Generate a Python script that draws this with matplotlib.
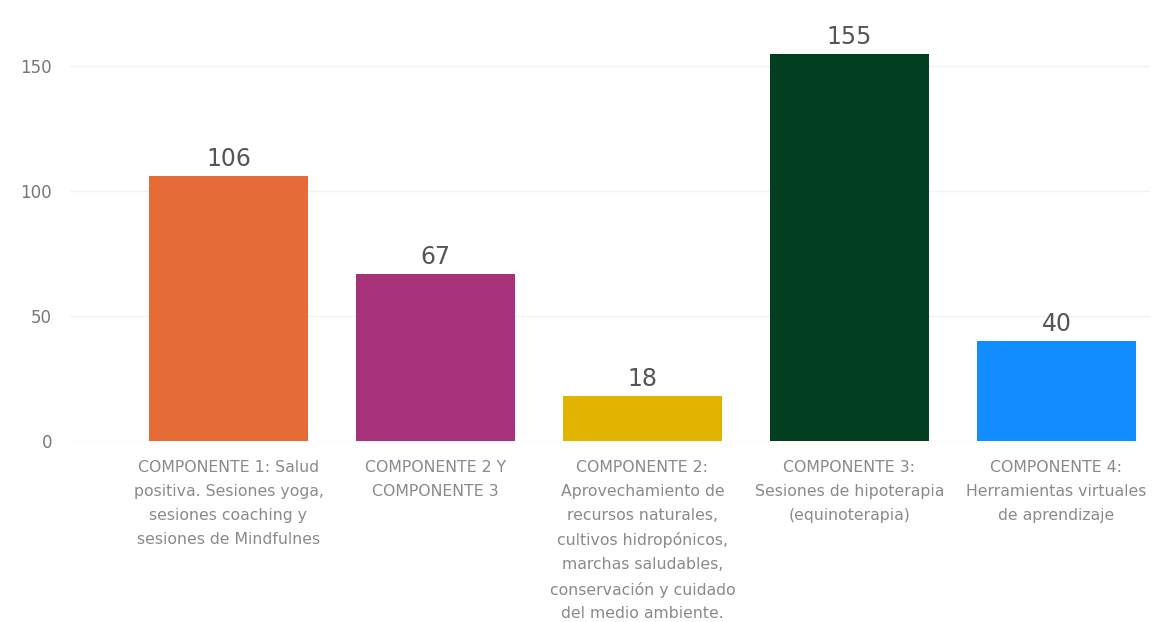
import numpy as np
import matplotlib.pyplot as plt

# Datos del gráfico
categorias = [
    "COMPONENTE 1: Salud\npositiva. Sesiones yoga,\nsesiones coaching y\nsesiones de Mindfulnes",
    "COMPONENTE 2 Y\nCOMPONENTE 3",
    "COMPONENTE 2:\nAprovechamiento de\nrecursos naturales,\ncultivos hidropónicos,\nmarchas saludables,\nconservación y cuidado\ndel medio ambiente.",
    "COMPONENTE 3:\nSesiones de hipoterapia\n(equinoterapia)",
    "COMPONENTE 4:\nHerramientas virtuales\nde aprendizaje",
]
valores = [106, 67, 18, 155, 40]
colores = ["#E66C37", "#A8327A", "#E0B400", "#013F20", "#118DFF"]
ticks_y = [0, 50, 100, 150]

fig = plt.figure(figsize=(11.55, 6.22), dpi=100)
ax = fig.add_axes([70 / 1155, 1 - 441 / 622, (1150 - 70) / 1155, 412.5 / 622])

x = np.arange(len(valores))
barras = ax.bar(x, valores, width=0.768, color=colores, zorder=3)

for xi, v in zip(x, valores):
    ax.text(xi, v + 2, str(v), ha="center", va="bottom", fontsize=17,
            color="#555555", zorder=4)

ax.set_xlim((70 - 228.5) / 207, (1150 - 228.5) / 207)
ax.set_ylim(0, 165)
ax.set_yticks(ticks_y)
ax.set_yticklabels([str(t) for t in ticks_y])
ax.set_xticks(x)
ax.set_xticklabels(categorias, fontsize=11.3, color="#8a8a8a", linespacing=1.73)
ax.tick_params(axis="x", length=0, pad=14)
ax.tick_params(axis="y", length=0, labelsize=12, labelcolor="#777777", pad=13)

ax.grid(axis="y", color="#f2f2f2", linewidth=1, zorder=0)
for s in ax.spines.values():
    s.set_visible(False)

plt.savefig("out.png", dpi=100)
